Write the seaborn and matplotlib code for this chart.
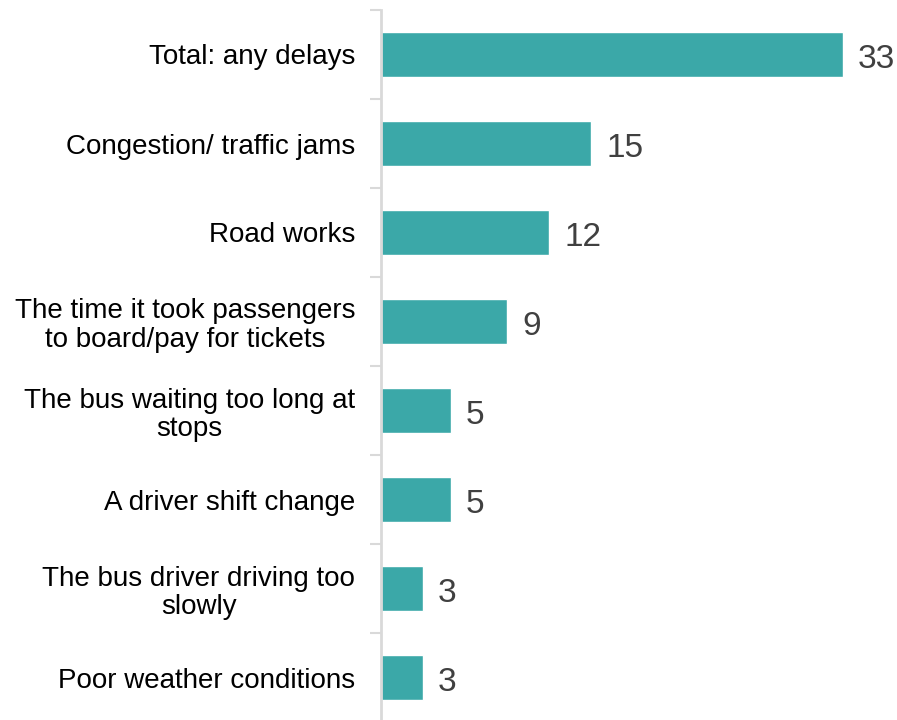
import matplotlib
matplotlib.use("Agg")
import matplotlib.pyplot as plt
import seaborn as sns
import pandas as pd

categories = [
    "Total: any delays",
    "Congestion/ traffic jams",
    "Road works",
    "The time it took passengers\nto board/pay for tickets",
    "The bus waiting too long at\nstops",
    "A driver shift change",
    "The bus driver driving too\nslowly",
    "Poor weather conditions",
]
values = [33, 15, 12, 9, 5, 5, 3, 3]

df = pd.DataFrame({"reason": categories, "pct": values})

sns.set_theme(style="white")
plt.rcParams["font.family"] = ["Liberation Sans", "DejaVu Sans"]

W, H = 897, 720
fig = plt.figure(figsize=(W / 100, H / 100), dpi=100)
left_px, top_px, bottom_px = 381, 10, -2
ax = fig.add_axes([left_px / W, bottom_px / H, (W - left_px) / W, (H - top_px - bottom_px) / H])

bar_color = "#3BA8A8"
sns.barplot(data=df, y="reason", x="pct", orient="h", color=bar_color,
            width=0.5, saturation=1, ax=ax)

n = len(categories)
ax.set_xlim(0, (W - left_px) / 14)
ax.set_ylim(n - 0.5, -0.5)

for i, v in enumerate(values):
    ax.text(v + 15 / 14, i + 0.02, str(v), va="center_baseline", ha="left",
            fontsize=24, color="#404040")

# Category labels
ax.set_yticks(range(n))
ax.set_yticklabels(categories, fontsize=20, color="black", linespacing=1.12)
for lbl in ax.get_yticklabels():
    lbl.set_multialignment("center")
ax.tick_params(axis="y", length=0, pad=18.5)
ax.set_xticks([])
ax.set_xlabel("")
ax.set_ylabel("")

# Boundary tick marks between categories
ax.set_yticks([i - 0.5 for i in range(n + 1)], minor=True)
ax.tick_params(axis="y", which="minor", length=8, width=1.5, color="#D9D9D9", left=True)

for s in ["top", "right", "bottom"]:
    ax.spines[s].set_visible(False)
ax.spines["left"].set_color("#D9D9D9")
ax.spines["left"].set_linewidth(2)

fig.savefig("out.png", dpi=100)
